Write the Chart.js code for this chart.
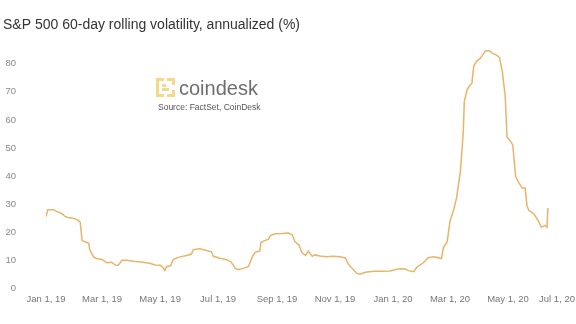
<!DOCTYPE html>
<html>
<head>
<meta charset="utf-8">
<script src="https://cdn.jsdelivr.net/npm/chart.js@4.4.1/dist/chart.umd.min.js"></script>
<style>
  body { margin: 0; background: #fff; }
</style>
</head>
<body>
<canvas id="myChart" width="576" height="324"></canvas>
<script>
// days since Jan 1, 2019
var days = [0, 2, 8, 11, 15, 18, 20, 23, 29, 34, 36, 38, 41, 45, 46, 50, 53, 59, 64, 69,
  73, 76, 80, 85, 92, 102, 109, 115, 120, 123, 125, 127, 131, 134, 141, 148, 153, 155, 162, 169,
  174, 176, 183, 190, 195, 199, 202, 208, 213, 217, 220, 225, 226, 230, 234, 236, 241, 248, 255, 259,
  262, 266, 269, 273, 276, 280, 283, 288, 295, 302, 309, 315, 318, 324, 327, 330, 336, 345, 353, 362,
  369, 373, 378, 381, 387, 390, 397, 402, 408, 416, 418, 422, 425, 429, 432, 436, 439, 440, 443, 446,
  448, 450, 453, 457, 462, 466, 469, 474, 477, 480, 483, 485, 488, 491, 494, 497, 501, 504, 506, 508,
  513, 518, 521, 525, 527, 528];
// volatility (%)
var vol = [25.6, 28.0, 28.0, 27.4, 26.9, 26.3, 25.6, 25.2, 25.0, 24.2, 23.5, 17.0, 16.6, 16.0, 13.8, 11.2, 10.6, 10.3, 9.1, 9.3,
  8.3, 8.2, 10.0, 10.0, 9.6, 9.3, 8.9, 8.3, 8.2, 7.5, 6.4, 7.8, 8.0, 10.3, 11.2, 11.7, 12.2, 13.8, 14.1, 13.5,
  13.0, 11.4, 10.7, 10.2, 9.3, 7.1, 6.7, 7.1, 7.8, 11.2, 12.8, 13.3, 16.3, 17.0, 17.5, 18.8, 19.4, 19.5, 19.7, 19.1,
  16.6, 15.5, 12.8, 11.7, 13.3, 11.4, 11.9, 11.5, 11.2, 11.4, 11.2, 10.8, 8.6, 6.4, 5.3, 5.0, 5.7, 6.1, 6.1, 6.2,
  6.8, 7.0, 6.9, 6.3, 5.9, 7.5, 9.1, 10.9, 11.2, 10.6, 14.4, 16.6, 23.9, 28.2, 32.4, 42.0, 56.0, 66.5, 70.8, 72.4,
  72.9, 79.3, 80.9, 82.0, 84.5, 84.7, 83.9, 83.1, 82.3, 77.2, 68.7, 53.8, 52.7, 51.1, 39.9, 37.8, 35.7, 35.7, 29.3, 27.7,
  26.6, 23.9, 21.8, 22.4, 21.8, 28.6];
var tickDays = [0, 59, 120, 181, 243, 304, 365, 425, 486, 547];
var tickLabels = ['Jan 1, 19', 'Mar 1, 19', 'May 1, 19', 'Jul 1, 19', 'Sep 1, 19',
  'Nov 1, 19', 'Jan 1, 20', 'Mar 1, 20', 'May 1, 20', 'Jul 1, 20'];
var yTicks = [0, 10, 20, 30, 40, 50, 60, 70, 80];

var FONT = '"Liberation Sans", Arial, sans-serif';

// x labels, kept inside the canvas like the original
var xLabels = {
  id: 'xLabels',
  afterDraw: function (chart) {
    var c = chart.ctx, xs = chart.scales.x;
    c.save();
    c.font = '9.5px ' + FONT;
    c.fillStyle = '#777';
    c.textAlign = 'center';
    c.textBaseline = 'middle';
    tickLabels.forEach(function (lab, i) {
      var w = c.measureText(lab).width;
      var px = Math.min(xs.getPixelForValue(tickDays[i]), chart.width - w / 2 - 1);
      c.fillText(lab, px, chart.chartArea.bottom + 11);
    });
    c.restore();
  }
};

// coindesk logo + source
var logo = {
  id: 'logo',
  afterDraw: function (chart) {
    var c = chart.ctx;
    c.save();
    c.fillStyle = '#f3d98c';
    var x0 = 156, y0 = 78, s = 19;
    c.fillRect(x0, y0, s, 3);
    c.fillRect(x0, y0 + s - 3, s, 3);
    c.fillRect(x0, y0, 3, s);
    c.fillRect(x0 + s - 3, y0, 3, 7);
    c.fillRect(x0 + s - 3, y0 + 12, 3, 7);
    c.fillRect(x0 + 6, y0 + 6, 4, 3);
    c.fillRect(x0 + 6, y0 + 10, 7, 3);
    c.fillStyle = '#fff';
    c.fillRect(x0 + 8, y0, 3, 3);
    c.fillRect(x0 + 8, y0 + s - 3, 3, 3);
    c.fillStyle = '#6e6e6e';
    c.font = '20px ' + FONT;
    c.textBaseline = 'alphabetic';
    c.fillText('coindesk', 179, 95);
    c.fillStyle = '#555';
    c.font = '8.5px ' + FONT;
    c.textBaseline = 'middle';
    c.fillText('Source: FactSet, CoinDesk', 158, 108);
    c.restore();
  }
};

var ctx = document.getElementById('myChart').getContext('2d');
var myChart = new Chart(ctx, {
  type: 'line',
  data: {
    datasets: [{
      data: days.map(function (d, i) { return { x: d, y: vol[i] }; }),
      borderColor: '#e8b46a',
      borderWidth: 1.5,
      pointRadius: 0,
      fill: false,
      tension: 0
    }]
  },
  options: {
    responsive: false,
    animation: false,
    layout: { padding: { left: 3, right: 10, top: 0, bottom: 19 } },
    plugins: {
      legend: { display: false },
      tooltip: { enabled: false },
      title: {
        display: true,
        text: 'S&P 500 60-day rolling volatility, annualized (%)',
        align: 'start',
        color: '#333',
        font: { size: 14, family: FONT, weight: 'normal' },
        padding: { top: 4, bottom: 2 }
      }
    },
    scales: {
      x: {
        type: 'linear',
        min: 0,
        max: 547,
        grid: { display: false, drawTicks: false },
        border: { display: false },
        ticks: { display: false }
      },
      y: {
        min: 0,
        max: 90,
        afterBuildTicks: function (s) { s.ticks = yTicks.map(function (v) { return { value: v }; }); },
        afterFit: function (s) { s.width = 43; },
        grid: { display: false, drawTicks: false },
        border: { display: false },
        ticks: { color: '#888', padding: 30, font: { size: 9.5, family: FONT } }
      }
    }
  },
  plugins: [xLabels, logo]
});
</script>
</body>
</html>
